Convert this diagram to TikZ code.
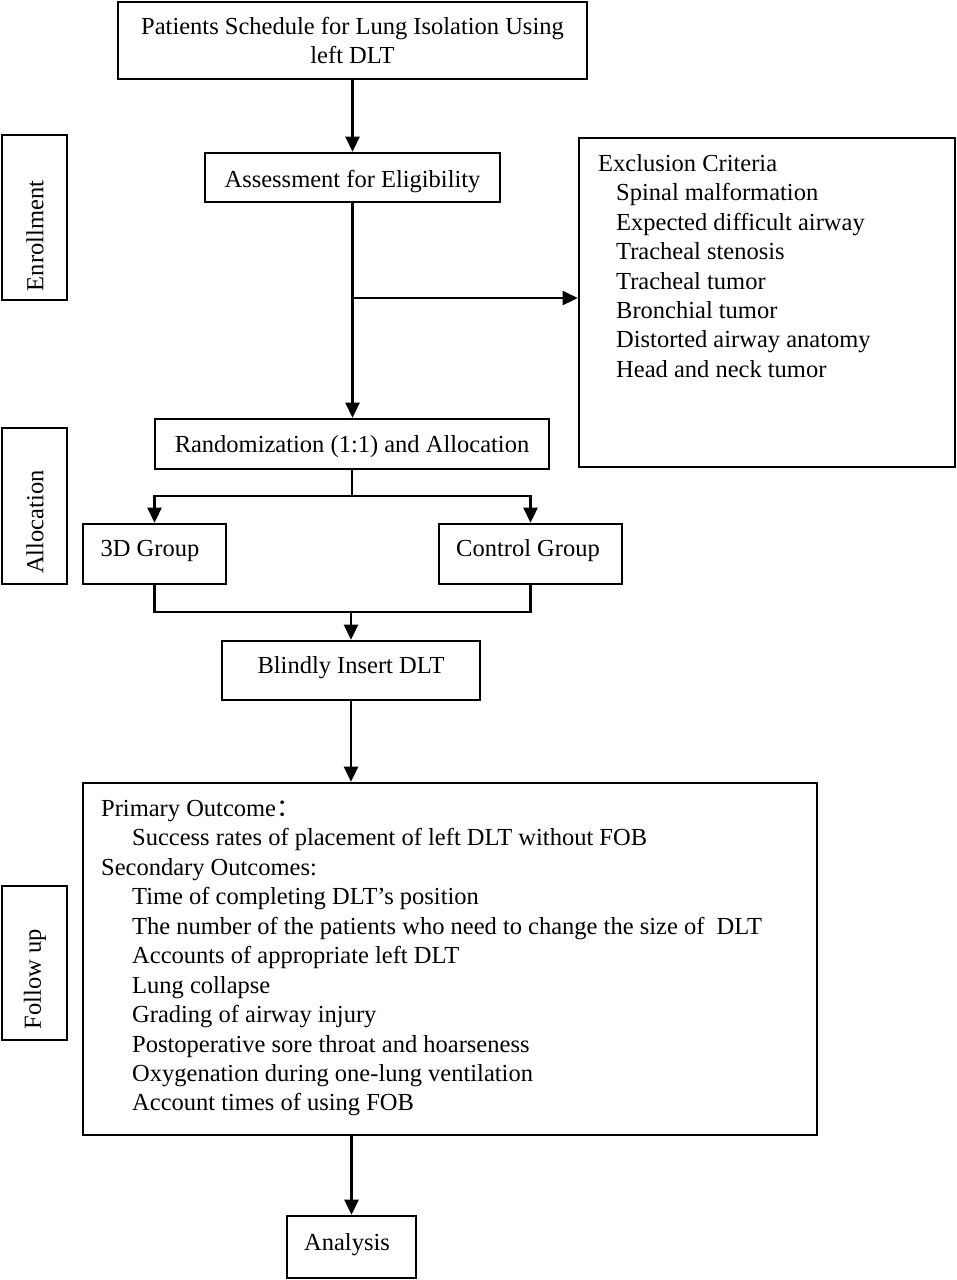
\documentclass[tikz,border=0pt]{standalone}
\usepackage{fontspec}
\setmainfont{Liberation Serif}
\newfontfamily\cjk{Noto Sans CJK SC}
\usetikzlibrary{arrows.meta}
\begin{document}
\begin{tikzpicture}[x=1pt,y=-1pt,
  every node/.style={font=\fontsize{24.5}{29.45}\selectfont},
  box/.style={draw, line width=2.6pt, rectangle, inner sep=0pt},
  ln/.style={line width=2.6pt},
  arr/.style={line width=2.6pt, -{Triangle[length=15pt,width=14pt]}},
  txt/.style={inner sep=0pt, align=left, anchor=north west}]
\useasboundingbox (0,0) rectangle (956,1280);
% main boxes
\node[box, minimum width=469pt, minimum height=77pt, align=center] (top) at (352.5,40.5)
  {Patients Schedule for Lung Isolation Using\\left DLT};
\node[box, minimum width=295pt, minimum height=49pt, text height=25pt, text depth=5pt] (assess) at (352.5,177.5) {Assessment for Eligibility};
\node[box, minimum width=376pt, minimum height=329pt] (excl) at (767,302.5) {};
\node[txt] (excltxt) at (598,154) {Exclusion Criteria\\
  \hspace*{18pt}Spinal malformation\\
  \hspace*{18pt}Expected difficult airway\\
  \hspace*{18pt}Tracheal stenosis\\
  \hspace*{18pt}Tracheal tumor\\
  \hspace*{18pt}Bronchial tumor\\
  \hspace*{18pt}Distorted airway anatomy\\
  \hspace*{18pt}Head and neck tumor};
\node[box, minimum width=394pt, minimum height=50pt, text height=21pt, text depth=5pt] (rand) at (352,444) {Randomization (1:1) and Allocation};
\node[box, minimum width=143pt, minimum height=60pt] (g3d) at (154.5,554) {};
\node[inner sep=0pt] (g3dtxt) at (150,551) {3D Group};
\node[box, minimum width=183pt, minimum height=60pt] (gc) at (530.5,554) {};
\node[inner sep=0pt] (gctxt) at (528,551) {Control Group};
\node[box, minimum width=258pt, minimum height=59pt] (blind) at (351,670.5) {};
\node[inner sep=0pt] (blindtxt) at (351,668) {Blindly Insert DLT};
\node[box, minimum width=734pt, minimum height=352pt] (out) at (450,959) {};
\node[txt] (outtxt) at (101,800) {Primary Outcome{\cjk ：}\\
  \hspace*{31pt}Success rates of placement of left DLT without FOB\\
  Secondary Outcomes:\\
  \hspace*{31pt}Time of completing DLT’s position\\
  \hspace*{31pt}The number of the patients who need to change the size of~ DLT\\
  \hspace*{31pt}Accounts of appropriate left DLT\\
  \hspace*{31pt}Lung collapse\\
  \hspace*{31pt}Grading of airway injury\\
  \hspace*{31pt}Postoperative sore throat and hoarseness\\
  \hspace*{31pt}Oxygenation during one-lung ventilation\\
  \hspace*{31pt}Account times of using FOB};
\node[box, minimum width=129pt, minimum height=62pt] (ana) at (351.5,1247) {};
\node[inner sep=0pt] (anatxt) at (347,1245) {Analysis};
% side labels
\node[box, minimum width=65pt, minimum height=165pt] (enr) at (34.5,217.5) {};
\node[inner sep=0pt, rotate=90] (enrtxt) at (35,236) {Enrollment};
\node[box, minimum width=65pt, minimum height=156pt] (alloc) at (34.5,506) {};
\node[inner sep=0pt, rotate=90] (alloctxt) at (35,522) {Allocation};
\node[box, minimum width=65pt, minimum height=154pt] (fol) at (34.5,963) {};
\node[inner sep=0pt, rotate=90] (foltxt) at (35,979) {Follow up};
% connectors
\coordinate (br) at (352,298);
\coordinate (s1) at (352,496);
\coordinate (m1) at (351,612);
\draw[arr] (top.south) -- (assess.north);
\draw[arr] (assess.south) -- (assess.south |- rand.north);
\draw[arr] (br) -- (excl.west |- br);
\draw[ln] (rand.south) -- (s1);
\draw[arr] (s1) -| (g3d.north);
\draw[arr] (s1) -| (gc.north);
\draw[ln] (g3d.south) |- (gc.south |- m1) -- (gc.south);
\draw[arr] (m1) -- (blind.north);
\draw[arr] (blind.south) -- (out.north -| blind.south);
\draw[arr] (out.south -| ana.north) -- (ana.north);
\end{tikzpicture}
\end{document}
